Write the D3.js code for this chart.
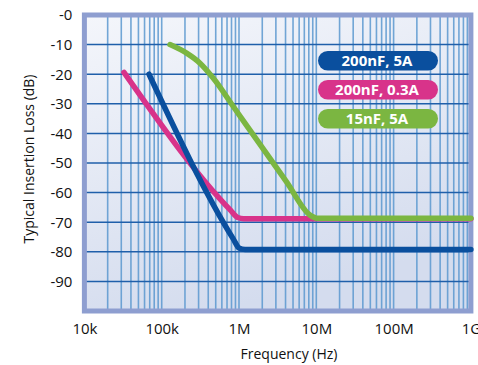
<!DOCTYPE html>
<html>
<head>
<meta charset="utf-8">
<script src="https://cdn.jsdelivr.net/npm/d3@7"></script>
<style>
  html, body { margin: 0; padding: 0; background: #ffffff; }
  svg { display: block; }
  text { font-family: "Open Sans", "Noto Sans", sans-serif; }
</style>
</head>
<body>
<svg id="chart" width="478" height="365"></svg>
<script>
// Axis ticks
const xTickValues = [1e4, 1e5, 1e6, 1e7, 1e8, 1e9];
const xTickLabels = ["10k", "100k", "1M", "10M", "100M", "1G"];
const yTickValues = [0, -10, -20, -30, -40, -50, -60, -70, -80, -90];
const yTickLabels = ["-0", "-10", "-20", "-30", "-40", "-50", "-60", "-70", "-80", "-90"];

// Series: frequency (Hz) and insertion loss (dB)
const seriesNames = ["200nF, 5A", "200nF, 0.3A", "15nF, 5A"];
const blueFreq = [68.5e3, 850e3, 1.0e6, 1.2e6, 1e9];
const blueLoss = [-20, -75.8, -78.7, -79.2, -79.2];
const pinkFreq = [32.5e3, 780e3, 960e3, 1.15e6, 1e9];
const pinkLoss = [-19.4, -66.0, -68.4, -68.8, -68.8];
const greenFreq = [128e3, 210e3, 313e3, 466e3, 843e3, 1.7e6, 4.1e6, 8.3e6, 10.5e6, 1e9];
const greenLoss = [-10, -12.9, -16.3, -21.4, -30.9, -42.2, -56.3, -67.6, -68.7, -68.7];
const seriesColors = ["#0a4f9e", "#d8338a", "#7bb641"];

const svg = d3.select("#chart");
const plotL = 84.4, plotR = 470.9, plotT = 15, plotB = 311;

const x = d3.scaleLog().domain([1e4, 1e9]).range([plotL, plotR]);
const y = d3.scaleLinear().domain([-100, 0]).range([plotB, plotT]);

const defs = svg.append("defs");
const grad = defs.append("linearGradient").attr("id", "bg")
  .attr("x1", "0").attr("y1", "0").attr("x2", "0.35").attr("y2", "1");
grad.append("stop").attr("offset", "0").attr("stop-color", "#f4f6fb");
grad.append("stop").attr("offset", "1").attr("stop-color", "#d4dcee");
defs.append("clipPath").attr("id", "plotClip")
  .append("rect").attr("x", plotL).attr("y", plotT)
  .attr("width", plotR - plotL).attr("height", plotB - plotT);

// Plot background
svg.append("rect").attr("x", plotL).attr("y", plotT)
  .attr("width", plotR - plotL).attr("height", plotB - plotT)
  .attr("fill", "url(#bg)");

// Vertical grid: every 1..9 × decade
const vGrid = [];
for (let e = 4; e < 9; e++) for (let m = 1; m < 10; m++) {
  if (!(e === 4 && m === 1)) vGrid.push(m * Math.pow(10, e));
}
const grid = svg.append("g").attr("clip-path", "url(#plotClip)");
grid.selectAll("line.v").data(vGrid).enter().append("line")
  .attr("class", "v")
  .attr("x1", d => x(d)).attr("x2", d => x(d))
  .attr("y1", plotT).attr("y2", plotB)
  .attr("stroke", "#5a98cf").attr("stroke-width", 1.6).attr("stroke-opacity", 0.85);

// Horizontal grid
grid.selectAll("line.h").data(yTickValues.filter(d => d !== 0)).enter().append("line")
  .attr("class", "h")
  .attr("x1", plotL).attr("x2", plotR)
  .attr("y1", d => y(d)).attr("y2", d => y(d))
  .attr("stroke", "#1f5faa").attr("stroke-width", 1.5);

// Frame
svg.append("rect").attr("x", plotL).attr("y", plotT)
  .attr("width", plotR - plotL).attr("height", plotB - plotT)
  .attr("fill", "none").attr("stroke", "#8e9ed0").attr("stroke-width", 5);

// Axes (labels only)
const xAxis = d3.axisBottom(x).tickValues(xTickValues)
  .tickFormat((d, i) => xTickLabels[i]).tickSize(0).tickPadding(0);
const gx = svg.append("g").attr("transform", `translate(0,${plotB + 9})`).call(xAxis);
gx.select(".domain").remove();
gx.selectAll("text").attr("font-size", 15).attr("fill", "#111")
  .attr("font-family", "'Open Sans', sans-serif").attr("dy", "0.9em");

const yAxis = d3.axisLeft(y).tickValues(yTickValues)
  .tickFormat((d, i) => yTickLabels[i]).tickSize(0).tickPadding(0);
const gy = svg.append("g").attr("transform", `translate(${plotL - 12},0)`).call(yAxis);
gy.select(".domain").remove();
gy.selectAll("text").attr("font-size", 15).attr("fill", "#111")
  .attr("font-family", "'Open Sans', sans-serif");

// Axis titles
svg.append("text").attr("x", 289).attr("y", 359)
  .attr("text-anchor", "middle").attr("font-size", 14).attr("fill", "#111")
  .text("Frequency (Hz)");
svg.append("text").attr("transform", "translate(34,159) rotate(-90)")
  .attr("text-anchor", "middle").attr("font-size", 14).attr("fill", "#111")
  .text("Typical Insertion Loss (dB)");

// Curves
const series = [
  { f: pinkFreq, l: pinkLoss, c: seriesColors[1] },
  { f: blueFreq, l: blueLoss, c: seriesColors[0] },
  { f: greenFreq, l: greenLoss, c: seriesColors[2] }
];
const line = d3.line().x(d => x(d[0])).y(d => y(d[1])).curve(d3.curveMonotoneX);
svg.selectAll("path.curve").data(series).enter().append("path")
  .attr("class", "curve")
  .attr("d", s => line(s.f.map((f, i) => [f, s.l[i]])))
  .attr("fill", "none").attr("stroke", s => s.c)
  .attr("stroke-width", 5.5).attr("stroke-linecap", "round").attr("stroke-linejoin", "round");

// Legend
const legend = svg.append("g");
const legTop = [51, 80, 109];
seriesNames.forEach((name, i) => {
  legend.append("rect").attr("x", 318).attr("y", legTop[i])
    .attr("width", 120).attr("height", 19.5).attr("rx", 9.75)
    .attr("fill", seriesColors[i]);
  legend.append("text").attr("x", 377).attr("y", legTop[i] + 10)
    .attr("dy", "0.36em").attr("text-anchor", "middle")
    .attr("font-size", 15).attr("font-weight", "bold").attr("fill", "#ffffff")
    .text(name);
});
</script>
</body>
</html>
